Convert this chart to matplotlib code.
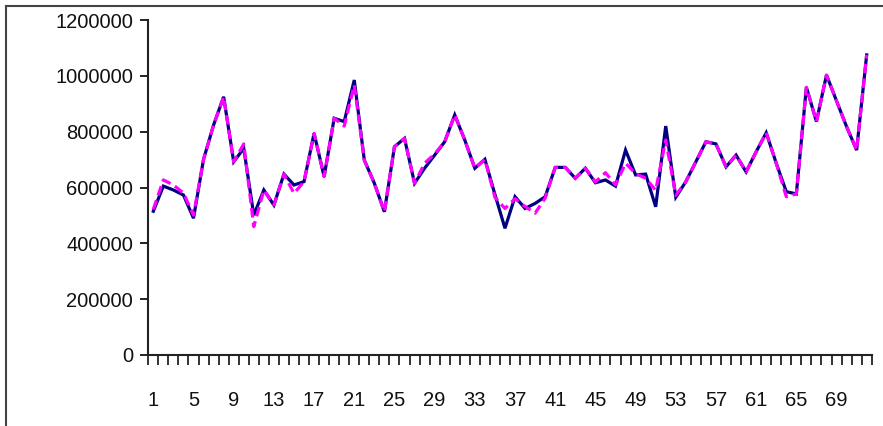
import matplotlib
matplotlib.use("Agg")
import matplotlib.pyplot as plt
from matplotlib.lines import Line2D

plt.rcParams['font.family'] = ['Liberation Sans', 'DejaVu Sans']

# periods 1..72
periods = list(range(1, 73))

# actual series (navy solid)
actual = [
    515000, 605000, 591000, 573000, 490000, 701000, 824000, 925000, 692000, 740000,
    501000, 591000, 537000, 648000, 609000, 621000, 794000, 639000, 848000, 836000,
    985000, 698000, 615000, 513000, 746000, 776000, 615000, 669000, 716000, 764000,
    860000, 770000, 669000, 701000, 575000, 454000, 567000, 525000, 543000, 567000,
    672000, 672000, 633000, 669000, 617000, 627000, 605000, 734000, 645000, 648000,
    531000, 820000, 565000, 621000, 692000, 764000, 756000, 674000, 716000, 656000,
    728000, 796000, 687000, 585000, 577000, 959000, 836000, 1003000, 910000, 818000,
    734000, 1075000,
]

# fitted / forecast series (magenta dashed)
fitted = [
    522000, 627000, 609000, 580000, 501000, 701000, 824000, 925000, 692000, 756000,
    460000, 591000, 537000, 648000, 579000, 621000, 794000, 639000, 848000, 820000,
    967000, 698000, 615000, 513000, 746000, 776000, 615000, 687000, 720000, 764000,
    860000, 770000, 669000, 701000, 565000, 525000, 560000, 532000, 508000, 562000,
    672000, 672000, 633000, 669000, 620000, 653000, 609000, 687000, 650000, 633000,
    590000, 770000, 572000, 621000, 692000, 764000, 756000, 674000, 716000, 656000,
    728000, 796000, 687000, 567000, 577000, 959000, 836000, 1003000, 910000, 818000,
    734000, 1075000,
]

y_ticks = [0, 200000, 400000, 600000, 800000, 1000000, 1200000]
x_labels = list(range(1, 73, 4))

fig = plt.figure(figsize=(8.83, 4.26), dpi=100)
ax = fig.add_axes([148.3 / 883, 1 - 355 / 426, (871.7 - 148.3) / 883, (355 - 20) / 426])

ax.plot(periods, actual, color='#000080', lw=2.3, solid_joinstyle='miter', zorder=2)
ax.plot(periods, fitted, color='#FF00FF', lw=2.3, linestyle=(0, (3, 1.6)), zorder=3)

ax.set_xlim(0.5, 72.5)
ax.set_ylim(0, 1200000)

ax.set_yticks(y_ticks)
ax.set_yticklabels([str(v) for v in y_ticks])
ax.set_xticks(x_labels)
ax.set_xticklabels([str(v) for v in x_labels])
ax.set_xticks([i + 0.5 for i in range(0, 73)], minor=True)

ax.tick_params(axis='y', direction='out', length=6, width=1.3, pad=5, labelsize=14.5, colors='#111111')
ax.tick_params(axis='x', which='major', length=0, pad=26, labelsize=14.5, colors='#111111')
ax.tick_params(axis='x', which='minor', direction='out', length=7, width=1.3, color='#222222')

for side in ['top', 'right']:
    ax.spines[side].set_visible(False)
for side in ['left', 'bottom']:
    ax.spines[side].set_linewidth(1.5)
    ax.spines[side].set_color('#222222')

# chart area border (cropped)
fig.add_artist(Line2D([6 / 883, 1], [1 - 6 / 426, 1 - 6 / 426], transform=fig.transFigure, color='#444444', lw=1.5))
fig.add_artist(Line2D([6 / 883, 6 / 883], [0, 1 - 6 / 426], transform=fig.transFigure, color='#444444', lw=1.5))

fig.savefig('out.png', dpi=100)
